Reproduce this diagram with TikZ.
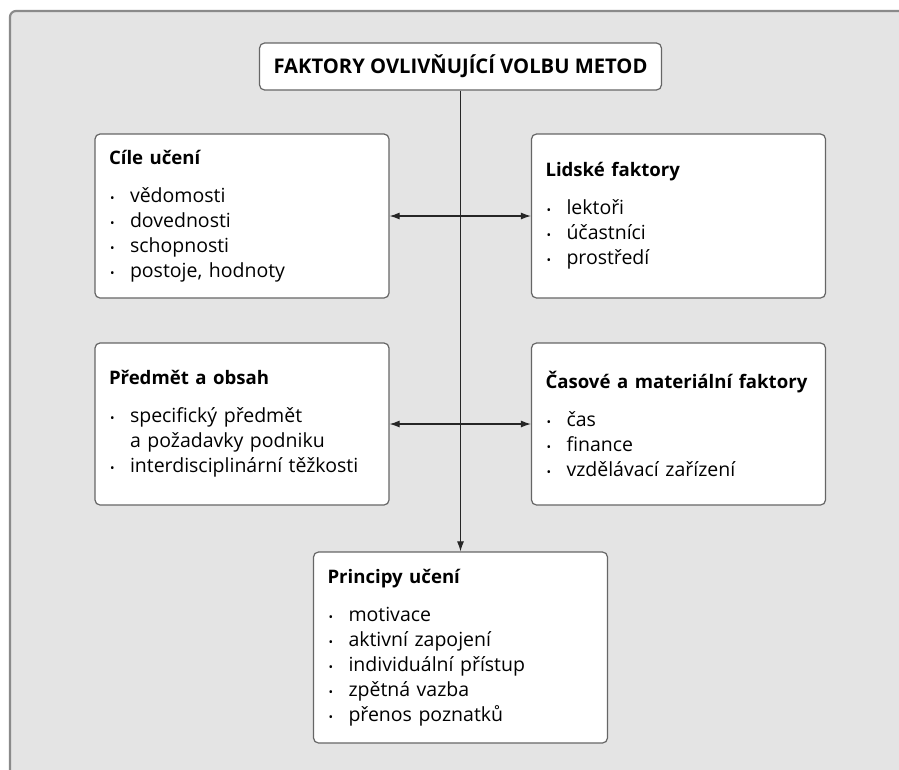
\documentclass[tikz,border=0pt]{standalone}
\usepackage{fontspec}
\setmainfont{Open Sans}
\usepackage{xcolor}
\usepackage{tikz}
\usetikzlibrary{arrows.meta}
\definecolor{bggray}{HTML}{E4E4E4}
\definecolor{framegray}{HTML}{8A8A8A}
\definecolor{boxgray}{HTML}{666666}
\newcommand{\itm}{\makebox[21pt][l]{\hspace{1pt}{\fontsize{12}{12}\selectfont\textbullet}}}
\newcommand{\cont}{\hspace*{21pt}}
\newcommand{\hd}[1]{\mbox{\fontsize{18.6}{25}\selectfont\bfseries #1}}

\begin{document}
\begin{tikzpicture}[x=1pt,y=-1pt]
\tikzset{>={Latex[width=7pt,length=10pt]}}
\tikzstyle{box} =[draw=boxgray, line width=1.2pt, fill=white, rounded corners=5pt, inner xsep=14pt, align=left, font=\fontsize{19.5}{25}\selectfont]
\tikzstyle{factor} =[box, text width=266pt, minimum height=164pt]
\tikzstyle{conn} =[draw=black!85, line width=1.1pt]

\useasboundingbox (0,0) rectangle (899,769);
\fill[bggray, rounded corners=6pt] (10,790) -- (10,11) -- (920,11) -- (920,790) -- cycle;
\draw[framegray, line width=2.2pt, rounded corners=6pt] (10,790) -- (10,11) -- (920,11);

\node[box, minimum width=401pt, minimum height=47pt, align=center, font=\fontsize{20.2}{22}\selectfont\bfseries](title) at (460.5,66.5){FAKTORY OVLIVŇUJÍCÍ VOLBU METOD};

\node[factor](cile) at (242,216){\hd{Cíle učení}\\[13pt]
\itm vědomosti\\ \itm dovednosti\\ \itm schopnosti\\ \itm postoje, hodnoty};
\node[factor](lidske) at (678.5,216){\hd{Lidské faktory}\\[13pt]
\itm lektoři\\ \itm účastníci\\ \itm prostředí};
\node[factor, minimum height=162pt](predmet) at (242,424){\hd{Předmět a obsah}\\[13pt]
\itm specifický předmět\\ \cont a požadavky podniku\\ \itm interdisciplinární těžkosti};
\node[factor, minimum height=162pt](casove) at (678.5,424){\hd{Časové a materiální faktory}\\[13pt]
\itm čas\\ \itm finance\\ \itm vzdělávací zařízení};
\node[factor, minimum height=191pt](princ) at (460.5,647.5){\hd{Principy učení}\\[13pt]
\itm motivace\\ \itm aktivní zapojení\\ \itm individuální přístup\\ \itm zpětná vazba\\ \itm přenos poznatků};

\coordinate (j1) at (title |- cile.east);
\coordinate (j2) at (title |- predmet.east);

\draw[conn,->] (title.south) -- (princ.north);
\draw[conn,->] (j1) -- (cile.east);
\draw[conn,->] (j1) -- (lidske.west);
\draw[conn,->] (j2) -- (predmet.east);
\draw[conn,->] (j2) -- (casove.west);
\end{tikzpicture}
\end{document}
